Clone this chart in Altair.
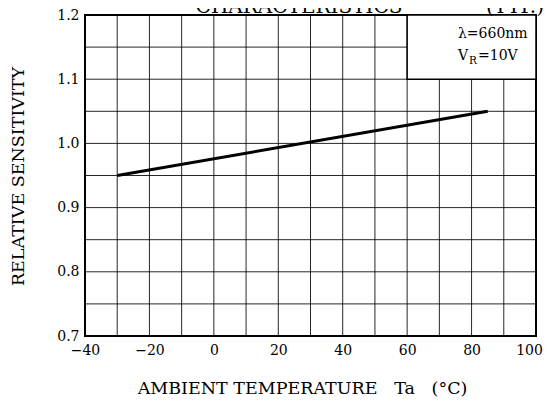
import altair as alt
import pandas as pd

# Data
temps = [-30, 85]
sensitivity = [0.95, 1.05]

x_grid = list(range(-40, 101, 10))
y_grid = [0.7, 0.75, 0.8, 0.85, 0.9, 0.95, 1.0, 1.05, 1.1, 1.15, 1.2]
x_labels = [-40, -20, 0, 20, 40, 60, 80, 100]
y_labels = [0.7, 0.8, 0.9, 1.0, 1.1, 1.2]

box_x = [60]
box_x2 = [100]
box_y = [1.1]
box_y2 = [1.2]

FONT = "DejaVu Serif"
GAP = "\u00a0" * 3

line_df = pd.DataFrame({"Ta": temps, "S": sensitivity})
box_df = pd.DataFrame({"x": box_x, "x2": box_x2, "y": box_y, "y2": box_y2})
xg_df = pd.DataFrame({"g": x_grid})
yg_df = pd.DataFrame({"g": y_grid})

xscale = alt.Scale(domain=[-40, 100], nice=False, zero=False)
yscale = alt.Scale(domain=[0.7, 1.2], nice=False, zero=False)

xaxis = alt.Axis(
    values=x_labels, format="d",
    grid=False, ticks=False, domain=False,
    labelFont=FONT, labelFontSize=14, labelColor="black", labelPadding=7,
    labelFlush=False, labelOverlap=False,
    labelOffset={"condition": {"test": "datum.value == 100", "value": -7}, "value": 0},
    title="AMBIENT TEMPERATURE" + GAP + "Ta" + GAP + "(°C)",
    titleFont=FONT, titleFontSize=17.5, titleFontWeight="normal", titleColor="black",
    titleX=217, titleY=57, titleBaseline="alphabetic", titleAlign="center",
)
yaxis = alt.Axis(
    values=y_labels, format=".1f",
    grid=False, ticks=False, domain=False,
    labelFont=FONT, labelFontSize=14, labelColor="black", labelPadding=6,
    labelFlush=False, labelOverlap=False,
    title="RELATIVE SENSITIVITY",
    titleFont=FONT, titleFontSize=17.5, titleFontWeight="normal", titleColor="black",
    titleX=-62, titleY=161, titleBaseline="alphabetic", titleAlign="center", titleAngle=270,
)

vgrid = alt.Chart(xg_df).mark_rule(color="black", strokeWidth=1, opacity=0.85).encode(
    x=alt.X("g:Q", scale=xscale, axis=xaxis)
)
hgrid = alt.Chart(yg_df).mark_rule(color="black", strokeWidth=1, opacity=0.85).encode(
    y=alt.Y("g:Q", scale=yscale, axis=yaxis)
)

line = alt.Chart(line_df).mark_line(color="black", strokeWidth=3, clip=True).encode(
    x=alt.X("Ta:Q", scale=xscale),
    y=alt.Y("S:Q", scale=yscale),
)

box = alt.Chart(box_df).mark_rect(fill="white", stroke="black", strokeWidth=1.5).encode(
    x=alt.X("x:Q", scale=xscale),
    x2="x2:Q",
    y=alt.Y("y:Q", scale=yscale),
    y2="y2:Q",
)

def txt(s, x, y, size=14, align="left"):
    return alt.Chart(pd.DataFrame({"t": [s]})).mark_text(
        font=FONT, fontSize=size, color="black", align=align, baseline="alphabetic"
    ).encode(text="t:N", x=alt.value(x), y=alt.value(y))

labels = [
    txt("λ=660nm", 373, 23),
    txt("V", 373, 45),
    txt("R", 384, 49, size=10.5),
    txt("=10V", 393, 45),
    txt("CHARACTERISTICS", 214, -2, size=20, align="center"),
    txt("(TYP.)", 430, -2, size=20, align="center"),
]

chart = alt.layer(vgrid, hgrid, line, box, *labels).properties(
    width=451, height=321,
    autosize=alt.AutoSizeParams(type="none"),
    padding={"left": 77, "top": 7, "right": 7, "bottom": 61},
).configure_view(stroke="black", strokeWidth=2)

chart.save("out.html", embed_options={"renderer": "svg", "actions": False})
